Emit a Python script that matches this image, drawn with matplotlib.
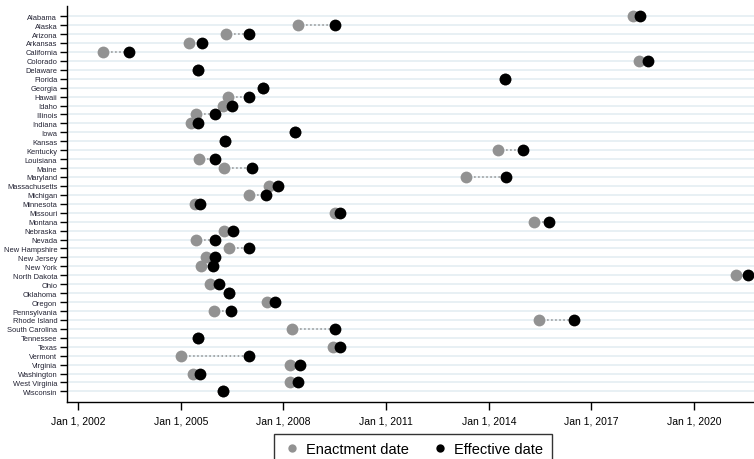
import numpy as np
import pandas as pd
import matplotlib
matplotlib.use("Agg")
import matplotlib.pyplot as plt
import matplotlib.dates as mdates
from matplotlib.lines import Line2D

plt.rcParams['font.family'] = ['Liberation Sans', 'DejaVu Sans']

# State laws: enactment date and effective date
states = ["Alabama", "Alaska", "Arizona", "Arkansas", "California", "Colorado",
          "Delaware", "Florida", "Georgia", "Hawaii", "Idaho", "Illinois",
          "Indiana", "Iowa", "Kansas", "Kentucky", "Louisiana", "Maine",
          "Maryland", "Massachusetts", "Michigan", "Minnesota", "Missouri",
          "Montana", "Nebraska", "Nevada", "New Hampshire", "New Jersey",
          "New York", "North Dakota", "Ohio", "Oklahoma", "Oregon",
          "Pennsylvania", "Rhode Island", "South Carolina", "Tennessee",
          "Texas", "Vermont", "Virginia", "Washington", "West Virginia",
          "Wisconsin"]

enacted = ["2018-03-25", "2008-06-10", "2006-04-24", "2005-03-29", "2002-09-27",
           "2018-05-26", "2005-07-01", "2014-06-25", "2007-05-26", "2006-05-22",
           "2006-03-28", "2005-06-17", "2005-04-20", "2008-05-08", "2006-04-20",
           "2014-04-10", "2005-07-12", "2006-04-12", "2013-05-01", "2007-07-31",
           "2007-01-01", "2005-06-03", "2009-07-05", "2015-04-27", "2006-04-09",
           "2005-06-17", "2006-05-30", "2005-09-24", "2005-08-08", "2021-03-20",
           "2005-11-14", "2006-06-03", "2007-07-05", "2005-12-24", "2015-06-25",
           "2008-04-01", "2005-07-01", "2009-06-17", "2005-01-01", "2008-03-10",
           "2005-05-08", "2008-03-17", "2006-04-01"]

effective = ["2018-06-06", "2009-07-01", "2007-01-01", "2005-08-12", "2003-07-01",
             "2018-09-01", "2005-07-01", "2014-06-25", "2007-05-26", "2007-01-01",
             "2006-07-01", "2006-01-01", "2005-07-01", "2008-05-08", "2006-04-20",
             "2015-01-01", "2006-01-01", "2007-02-03", "2014-07-01", "2007-10-31",
             "2007-07-01", "2005-07-27", "2009-08-25", "2015-10-01", "2006-07-15",
             "2006-01-01", "2007-01-01", "2006-01-01", "2005-12-06", "2021-08-01",
             "2006-02-14", "2006-06-03", "2007-10-01", "2006-06-18", "2016-07-01",
             "2009-07-05", "2005-07-01", "2009-09-01", "2007-01-01", "2008-07-01",
             "2005-07-24", "2008-06-10", "2006-04-01"]

tick_years = [2002, 2005, 2008, 2011, 2014, 2017, 2020]

enacted = pd.to_datetime(enacted)
effective = pd.to_datetime(effective)
y = np.arange(len(states))

fig = plt.figure(figsize=(7.54, 4.6), dpi=100)
ax = fig.add_axes([0.0889, 0.1246, 0.9111, 0.8604])

for yi in y:
    ax.axhline(yi, color='#e6eff3', lw=1.3, zorder=0)

for yi, a, b in zip(y, enacted, effective):
    ax.plot([a, b], [yi, yi], ls=':', color='#909090', lw=1.1, zorder=1)

ax.plot(enacted, y, 'o', color='#929292', ms=8.5, mec='none', zorder=2)
ax.plot(effective, y, 'o', color='black', ms=8.5, mec='none', zorder=3)

ax.set_yticks(y)
ax.set_yticklabels(states, fontsize=5.4, color='#222233')
ax.set_ylim(len(states) - 1 + 1.15, -1.15)

ax.set_xticks([pd.Timestamp(f"{yr}-01-01") for yr in tick_years])
ax.xaxis.set_major_formatter(mdates.DateFormatter('Jan 1, %Y'))
ax.set_xlim(pd.Timestamp("2001-09-05"), pd.Timestamp("2021-10-02"))
ax.tick_params(axis='x', labelsize=7.5, length=6, width=1, pad=4)
ax.tick_params(axis='y', length=5, width=1, pad=2)

for s in ['top', 'right']:
    ax.spines[s].set_visible(False)
for s in ['left', 'bottom']:
    ax.spines[s].set_linewidth(1)

handles = [Line2D([], [], ls='none', marker='o', color='#929292', ms=6, mec='none'),
           Line2D([], [], ls='none', marker='o', color='black', ms=6, mec='none')]
leg = fig.legend(handles, ['Enactment date', 'Effective date'], loc='upper center',
                 bbox_to_anchor=(0.548, 0.055), ncol=2, fontsize=10.5,
                 frameon=True, fancybox=False, handletextpad=0.4, columnspacing=1.5,
                 borderpad=0.6, borderaxespad=0, handlelength=1.2)
leg.get_frame().set_edgecolor('black')
leg.get_frame().set_linewidth(1)

fig.savefig('out.png', dpi=100)
